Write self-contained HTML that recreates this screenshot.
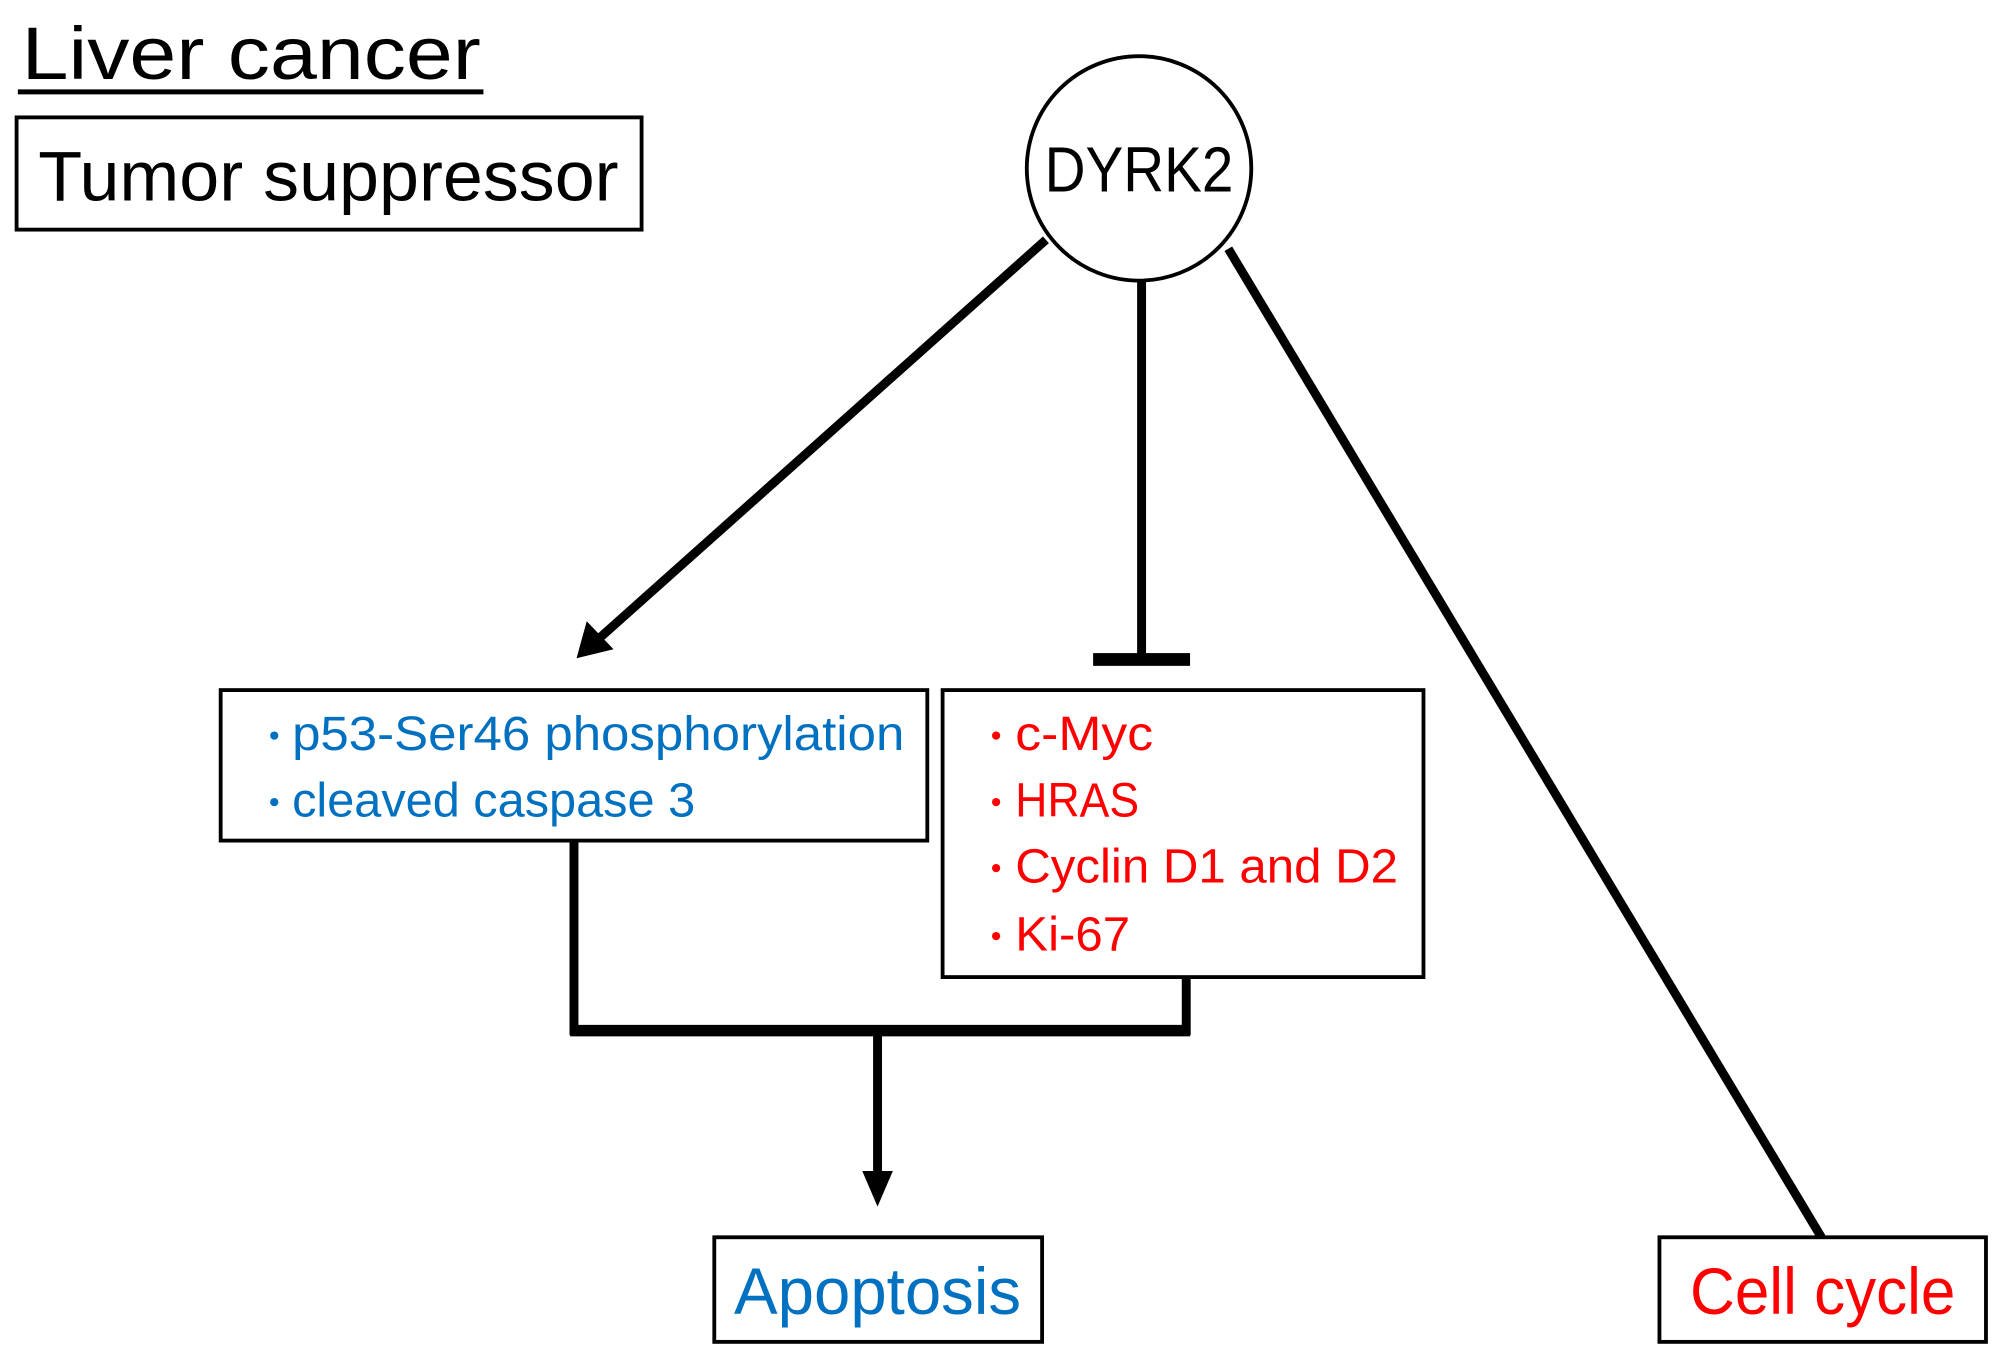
<!DOCTYPE html>
<html><head><meta charset="utf-8"><style>html,body{margin:0;padding:0;background:#fff}svg{display:block}</style></head>
<body>
<svg width="2000" height="1353" viewBox="0 0 1568 1060.7" xmlns="http://www.w3.org/2000/svg" font-family="'Liberation Sans', sans-serif">
<rect width="1568" height="1061" fill="#fff"/>
<text x="17" y="62" font-size="58" textLength="360" lengthAdjust="spacingAndGlyphs">Liver cancer</text>
<line x1="14" y1="72" x2="379" y2="72" stroke="#000" stroke-width="4"/>
<rect x="13" y="92" width="490" height="88" fill="none" stroke="#000" stroke-width="3"/>
<text x="30" y="157" font-size="55" textLength="455" lengthAdjust="spacingAndGlyphs">Tumor suppressor</text>
<circle cx="893" cy="132" r="88" fill="#fff" stroke="#000" stroke-width="3"/>
<text x="893" y="150" font-size="50" text-anchor="middle" textLength="148" lengthAdjust="spacingAndGlyphs">DYRK2</text>
<line x1="820" y1="188" x2="468" y2="502" stroke="#000" stroke-width="7"/>
<polygon points="452,516 460,487 481,509" fill="#000"/>
<line x1="895" y1="220" x2="895" y2="515" stroke="#000" stroke-width="7"/>
<rect x="857" y="512" width="76" height="10" fill="#000"/>
<line x1="963" y1="195" x2="1428" y2="970" stroke="#000" stroke-width="7"/>
<rect x="173" y="541" width="554" height="118" fill="#fff" stroke="#000" stroke-width="3"/>
<g fill="#0070c0" font-size="38">
<text x="200" y="588" font-size="30">・</text><text x="229" y="588" textLength="480" lengthAdjust="spacingAndGlyphs">p53-Ser46 phosphorylation</text>
<text x="200" y="640" font-size="30">・</text><text x="229" y="640" textLength="316" lengthAdjust="spacingAndGlyphs">cleaved caspase 3</text>
</g>
<rect x="739" y="541" width="377" height="225" fill="#fff" stroke="#000" stroke-width="3"/>
<g fill="#ff0000" font-size="38">
<text x="766" y="588" font-size="30">・</text><text x="796" y="588" textLength="108" lengthAdjust="spacingAndGlyphs">c-Myc</text>
<text x="766" y="640" font-size="30">・</text><text x="796" y="640" textLength="97" lengthAdjust="spacingAndGlyphs">HRAS</text>
<text x="766" y="692" font-size="30">・</text><text x="796" y="692" textLength="300" lengthAdjust="spacingAndGlyphs">Cyclin D1 and D2</text>
<text x="766" y="745" font-size="30">・</text><text x="796" y="745" textLength="90" lengthAdjust="spacingAndGlyphs">Ki-67</text>
</g>
<polyline points="450,659 450,808 930,808 930,766" fill="none" stroke="#000" stroke-width="7"/>
<line x1="447" y1="808" x2="933" y2="808" stroke="#000" stroke-width="9"/>
<line x1="688" y1="810" x2="688" y2="920" stroke="#000" stroke-width="7"/>
<polygon points="676,918 700,918 688,946" fill="#000"/>
<rect x="560" y="970" width="257" height="82" fill="#fff" stroke="#000" stroke-width="3"/>
<text x="688" y="1030" font-size="52" fill="#0070c0" text-anchor="middle" textLength="225" lengthAdjust="spacingAndGlyphs">Apoptosis</text>
<rect x="1301" y="970" width="256" height="82" fill="#fff" stroke="#000" stroke-width="3"/>
<text x="1429" y="1030" font-size="52" fill="#ff0000" text-anchor="middle" textLength="208" lengthAdjust="spacingAndGlyphs">Cell cycle</text>
</svg>
</body></html>
